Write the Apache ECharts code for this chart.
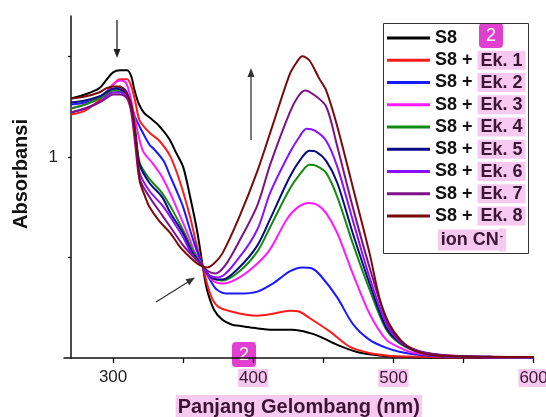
<!DOCTYPE html>
<html>
<head>
<meta charset="utf-8">
<script src="https://cdn.jsdelivr.net/npm/echarts@6/dist/echarts.min.js"></script>
<style>
html,body{margin:0;padding:0;background:#fff;}
#c{width:546px;height:417px;}
</style>
</head>
<body>
<div id="c"></div>
<script>
// ---- data: [wavelength nm, absorbance] ----
const seriesNames = ['S8','S8 + Ek. 1','S8 + Ek. 2','S8 + Ek. 3','S8 + Ek. 4','S8 + Ek. 5','S8 + Ek. 6','S8 + Ek. 7','S8 + Ek. 8'];
const seriesColors = ['#000000','#ff1a1a','#1a1aff','#ff1aff','#128a12','#0a0a80','#8a10ff','#80108a','#7a0a0a'];

const s8 = [[270,1.29],[280,1.31],[290,1.34],[295,1.38],[300,1.42],[305,1.43],[310,1.43],[313,1.40],[315,1.34],[318,1.27],[322,1.22],[327,1.19],[332,1.16],[340,1.09],[345,1.02],[350,0.95],[355,0.80],[360,0.63],[364,0.455],[367,0.34],[372,0.24],[378,0.19],[385,0.165],[390,0.16],[400,0.15],[414,0.14],[428,0.14],[440,0.125],[448,0.105],[460,0.065],[474,0.03],[490,0.013],[500,0.007],[520,0.003],[550,0.001],[600,0.0]];
const ek1 = [[270,1.21],[280,1.23],[290,1.28],[295,1.32],[300,1.36],[305,1.385],[310,1.385],[313,1.35],[316,1.27],[319,1.18],[326,1.12],[333,1.08],[341,1.0],[348,0.87],[355,0.70],[360,0.55],[364,0.455],[367,0.37],[371,0.29],[376,0.25],[385,0.23],[395,0.215],[403,0.21],[414,0.22],[426,0.235],[433,0.23],[440,0.20],[455,0.13],[469,0.055],[483,0.025],[495,0.013],[510,0.007],[540,0.003],[600,0.001]];
const ek2 = [[270,1.26],[280,1.27],[290,1.29],[295,1.31],[300,1.335],[305,1.345],[309,1.33],[312,1.28],[315,1.21],[319,1.15],[326,1.06],[329,1.04],[336,0.98],[341,0.90],[346,0.82],[350,0.75],[355,0.635],[358,0.57],[364,0.455],[369,0.39],[374,0.34],[381,0.32],[390,0.32],[403,0.33],[414,0.37],[426,0.43],[435,0.45],[442,0.445],[448,0.41],[460,0.30],[471,0.17],[483,0.09],[495,0.05],[505,0.03],[519,0.015],[540,0.006],[570,0.003],[600,0.002]];
const ek3 = [[270,1.24],[280,1.26],[290,1.29],[295,1.32],[300,1.36],[305,1.38],[309,1.37],[312,1.31],[315,1.21],[319,1.08],[322,1.02],[328,0.97],[335,0.90],[342,0.80],[350,0.67],[355,0.585],[358,0.53],[364,0.455],[370,0.39],[378,0.37],[390,0.40],[403,0.47],[412,0.54],[424,0.69],[432,0.75],[440,0.77],[446,0.76],[452,0.72],[460,0.62],[471,0.42],[483,0.22],[495,0.09],[505,0.05],[512,0.03],[526,0.015],[550,0.006],[600,0.003]];
const ek4 = [[270,1.24],[280,1.26],[290,1.29],[295,1.31],[300,1.33],[305,1.325],[310,1.30],[313,1.25],[316,1.12],[319,0.97],[326,0.89],[335,0.82],[342,0.74],[350,0.635],[355,0.56],[358,0.52],[364,0.455],[370,0.40],[378,0.385],[390,0.43],[403,0.53],[412,0.65],[426,0.84],[434,0.92],[440,0.96],[445,0.955],[452,0.92],[460,0.80],[471,0.57],[483,0.34],[495,0.14],[505,0.07],[519,0.028],[540,0.01],[570,0.005],[600,0.004]];
const ek5 = [[270,1.27],[280,1.28],[290,1.30],[295,1.32],[300,1.34],[305,1.335],[310,1.31],[313,1.25],[316,1.11],[319,0.96],[326,0.87],[335,0.80],[341,0.72],[350,0.62],[355,0.545],[358,0.51],[364,0.455],[370,0.40],[378,0.39],[390,0.45],[403,0.56],[412,0.69],[426,0.90],[434,0.99],[440,1.03],[445,1.025],[452,0.98],[460,0.87],[471,0.62],[483,0.37],[495,0.15],[505,0.075],[519,0.03],[540,0.01],[570,0.006],[600,0.004]];
const ek6 = [[270,1.22],[280,1.24],[290,1.27],[295,1.30],[300,1.32],[305,1.32],[310,1.30],[313,1.24],[316,1.08],[319,0.92],[326,0.83],[335,0.76],[341,0.70],[350,0.60],[355,0.53],[358,0.50],[364,0.455],[369,0.41],[375,0.40],[390,0.50],[403,0.64],[412,0.82],[426,1.02],[433,1.10],[438,1.14],[444,1.13],[452,1.08],[460,0.95],[471,0.685],[483,0.40],[495,0.17],[505,0.08],[519,0.032],[540,0.011],[570,0.006],[600,0.004]];
const ek7 = [[270,1.22],[280,1.24],[290,1.27],[295,1.29],[300,1.31],[305,1.31],[310,1.29],[313,1.22],[316,1.05],[319,0.89],[326,0.80],[335,0.71],[341,0.65],[350,0.56],[355,0.52],[359,0.49],[364,0.455],[368,0.43],[373,0.42],[380,0.46],[390,0.58],[403,0.76],[412,0.96],[426,1.22],[432,1.30],[437,1.33],[443,1.31],[452,1.25],[460,1.05],[471,0.75],[483,0.45],[495,0.19],[505,0.085],[519,0.033],[540,0.012],[570,0.006],[600,0.005]];
const ek8 = [[270,1.29],[280,1.30],[290,1.32],[295,1.34],[300,1.35],[305,1.35],[309,1.32],[312,1.28],[314,1.22],[317,1.04],[319,0.88],[323,0.80],[326,0.75],[333,0.68],[341,0.62],[348,0.55],[355,0.50],[360,0.47],[364,0.455],[367,0.45],[372,0.47],[378,0.52],[390,0.70],[403,0.93],[414,1.16],[426,1.41],[431,1.47],[435,1.50],[440,1.48],[447,1.39],[452,1.33],[460,1.15],[471,0.85],[483,0.52],[490,0.30],[497,0.17],[505,0.09],[514,0.04],[526,0.016],[550,0.007],[600,0.005]];
const allData = [s8, ek1, ek2, ek3, ek4, ek5, ek6, ek7, ek8];

const xTicks = [300,350,400,450,500,550,600];
const xTickLabels = [300,400,500,600];
const yTicks = [0.5,1,1.5];
const yTickLabels = [1];

const HL = '#f8c9f0';
const HLTXT = '#3b1436';
const FONT = 'Liberation Sans, Arial, Helvetica, sans-serif';

const chart = echarts.init(document.getElementById('c'), null, {renderer:'canvas'});

const series = allData.map((d,i)=>({
  name: seriesNames[i], type:'line', data:d, showSymbol:false, symbol:'none',
  smooth:0.3, lineStyle:{width:2, color:seriesColors[i]}, itemStyle:{color:seriesColors[i]},
  z: 2+i, silent:true, animation:false
}));

function arrowHead(tip, dir, len, half){
  const n = Math.hypot(dir[0],dir[1]); const ux=dir[0]/n, uy=dir[1]/n;
  const bx = tip[0]-ux*len, by = tip[1]-uy*len;
  return [tip,[bx-uy*half, by+ux*half],[bx+uy*half, by-ux*half]];
}

function badge(x,y){
  return {type:'group', x:x, y:y, z:100, children:[
    {type:'rect', shape:{x:0,y:0,width:24,height:25,r:4}, style:{fill:'#e03fd0'}},
    {type:'text', style:{text:'2', x:12, y:13, fill:'#fff', font:'18px '+FONT, align:'center', verticalAlign:'middle'}}
  ]};
}

const option = {
  animation:false,
  backgroundColor:'#fff',
  grid:{left:64, right:12.4, top:16, bottom:59, containLabel:false, outerBoundsMode:'none'},
  xAxis:{
    type:'value', min:265, max:600,
    axisLine:{show:true, onZero:false, lineStyle:{color:'#111', width:1.5}},
    axisTick:{show:true, customValues:xTicks, length:5, lineStyle:{color:'#111', width:1.3}},
    axisLabel:{customValues:xTickLabels, margin:11, fontSize:17, color:'#222', fontFamily:FONT,
      formatter:function(v){ return v===300 ? '{n|'+v+'}' : '{h|'+v+'}'; },
      rich:{n:{fontSize:17, color:'#222', fontFamily:FONT},
            h:{fontSize:17, color:HLTXT, fontFamily:FONT, backgroundColor:HL, padding:[1,1,0,1]}}},
    splitLine:{show:false},
    name:'Panjang Gelombang (nm)', nameLocation:'middle', nameGap:37,
    nameTextStyle:{fontSize:20, fontWeight:'bold', color:HLTXT, fontFamily:FONT, backgroundColor:HL, padding:[2,2,0,2]}
  },
  yAxis:{
    type:'value', min:0, max:1.7, offset:-7,
    axisLine:{show:true, onZero:false, lineStyle:{color:'#111', width:1.5}},
    axisTick:{show:true, customValues:yTicks, length:3, lineStyle:{color:'#111', width:1.3}},
    axisLabel:{customValues:yTickLabels, margin:13, fontSize:17, color:'#222', fontFamily:FONT},
    splitLine:{show:false},
    name:'Absorbansi', nameLocation:'middle', nameGap:40,
    nameTextStyle:{fontSize:20, fontWeight:'bold', color:'#111', fontFamily:FONT, padding:[0,0,0,26]}
  },
  legend:{
    data:seriesNames, orient:'vertical', left:387, top:28.5, padding:0,
    icon:'rect', itemWidth:43, itemHeight:3, itemGap:3.25,
    selectedMode:false,
    formatter:function(name){ return name==='S8' ? 'S8' : 'S8 + {h|'+name.replace('S8 + ','')+'}'; },
    textStyle:{fontSize:18, fontWeight:'bold', color:'#111', fontFamily:FONT, lineHeight:19,
      rich:{h:{fontSize:18, fontWeight:'bold', color:HLTXT, fontFamily:FONT, backgroundColor:HL, padding:[1,3,0,3], lineHeight:19}}}
  },
  graphic:[
    {type:'rect', shape:{x:383.5,y:23.5,width:145,height:230}, style:{fill:'none', stroke:'#333', lineWidth:1}, z:50},
    {type:'text', z:60, style:{x:472, y:240, align:'center', verticalAlign:'middle',
      text:'{a|ion CN}{s|-}', rich:{
        a:{fontSize:18, fontWeight:'bold', fill:HLTXT, fontFamily:FONT, backgroundColor:HL, padding:[2,0,1,3]},
        s:{fontSize:10, fontWeight:'bold', fill:HLTXT, fontFamily:FONT, backgroundColor:HL, padding:[3,3,10,1]}}}},
    // arrows
    {type:'line', shape:{x1:117,y1:20,x2:117,y2:50}, style:{stroke:'#222', lineWidth:1.3}, z:40},
    {type:'polygon', shape:{points:arrowHead([117,58],[0,1],9,3.5)}, style:{fill:'#222'}, z:40},
    {type:'line', shape:{x1:251,y1:140,x2:251,y2:76}, style:{stroke:'#333', lineWidth:1.3}, z:40},
    {type:'polygon', shape:{points:arrowHead([251,68],[0,-1],9,3.5)}, style:{fill:'#333'}, z:40},
    {type:'line', shape:{x1:156,y1:302,x2:188,y2:282}, style:{stroke:'#333', lineWidth:1.3}, z:40},
    {type:'polygon', shape:{points:arrowHead([195,277.5],[39,-24.5],9,3.5)}, style:{fill:'#333'}, z:40},
    badge(479,23),
    badge(232,342)
  ],
  series:series
};
chart.setOption(option);
</script>
</body>
</html>
